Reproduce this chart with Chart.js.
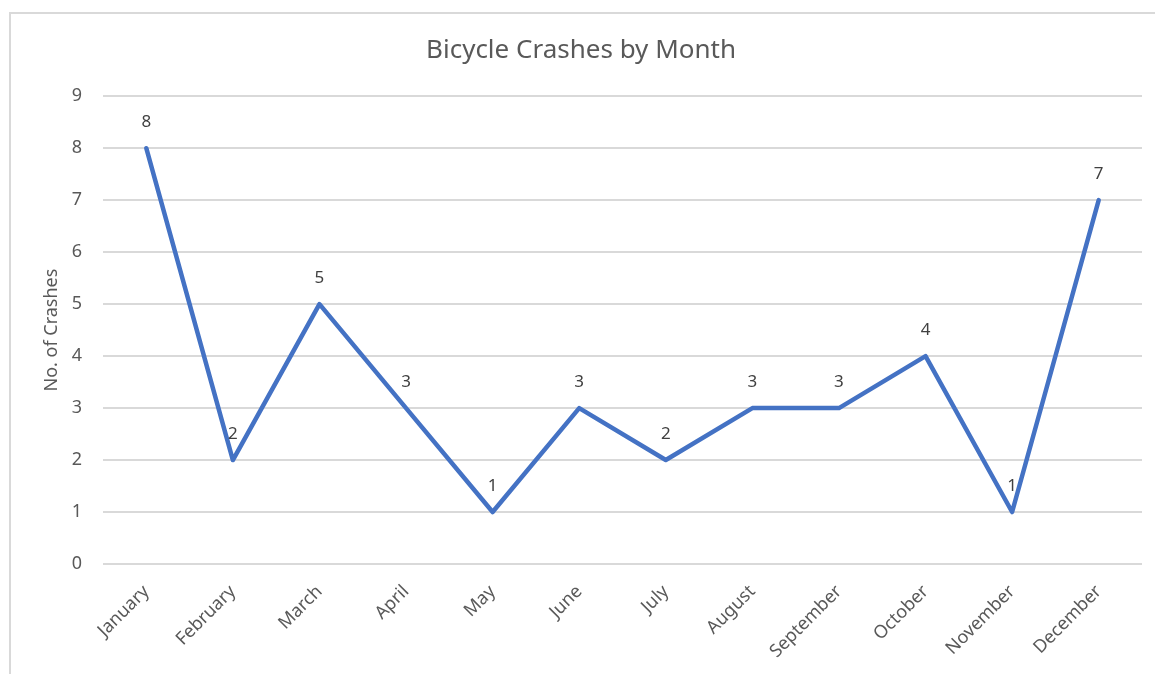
<!DOCTYPE html>
<html>
<head>
<meta charset="utf-8">
<script src="https://cdn.jsdelivr.net/npm/chart.js@4"></script>
<style>
  html, body { margin: 0; padding: 0; background: #fff; }
  #wrap { width: 1155px; height: 674px; position: relative; }
</style>
</head>
<body>
<div id="wrap"><canvas id="crashChart" width="1155" height="674"></canvas></div>
<script>
// chart data
const months = ['January', 'February', 'March', 'April', 'May', 'June',
                'July', 'August', 'September', 'October', 'November', 'December'];
const crashes = [8, 2, 5, 3, 1, 3, 2, 3, 3, 4, 1, 7];
const yTicks = [0, 1, 2, 3, 4, 5, 6, 7, 8, 9];

const FONT = "'Noto Sans', 'Open Sans', sans-serif";
const GREY = '#595959';

// light border round the chart, like the Excel frame
const frame = {
    id: 'frame',
    beforeDraw(chart) {
        const ctx = chart.ctx;
        ctx.save();
        ctx.strokeStyle = '#d9d9d9';
        ctx.lineWidth = 2;
        ctx.strokeRect(10, 13, chart.width + 20, chart.height + 20);
        ctx.restore();
    }
};

// value labels above each point
const valueLabels = {
    id: 'valueLabels',
    afterDatasetsDraw(chart) {
        const ctx = chart.ctx;
        const meta = chart.getDatasetMeta(0);
        ctx.save();
        ctx.font = '17px ' + FONT;
        ctx.fillStyle = '#404040';
        ctx.textAlign = 'center';
        ctx.textBaseline = 'middle';
        meta.data.forEach((pt, i) => {
            ctx.fillText(String(crashes[i]), pt.x, pt.y - 26);
        });
        ctx.restore();
    }
};

const ctx = document.getElementById('crashChart').getContext('2d');
new Chart(ctx, {
    type: 'line',
    data: {
        labels: months,
        datasets: [{
            label: 'No. of Crashes',
            data: crashes,
            borderColor: '#4472C4',
            borderWidth: 4.5,
            borderJoinStyle: 'round',
            borderCapStyle: 'round',
            pointRadius: 0,
            tension: 0,
            fill: false
        }]
    },
    options: {
        responsive: false,
        animation: false,
        layout: { padding: { left: 20, right: 13, top: 0, bottom: 0 } },
        plugins: {
            legend: { display: false },
            tooltip: { enabled: false },
            title: {
                display: true,
                text: 'Bicycle Crashes by Month',
                color: GREY,
                font: { family: FONT, size: 26, weight: 'normal' },
                padding: { top: 35, bottom: 30 }
            }
        },
        scales: {
            x: {
                offset: true,
                grid: { display: false, drawTicks: false },
                border: { display: false },
                ticks: {
                    color: GREY,
                    font: { family: FONT, size: 18 },
                    minRotation: 45,
                    maxRotation: 45,
                    padding: 17
                },
                afterFit(scale) { scale.height = 110; }
            },
            y: {
                min: 0,
                max: 9,
                afterBuildTicks(scale) { scale.ticks = yTicks.map(v => ({ value: v })); },
                grid: { color: '#d9d9d9', lineWidth: 2, drawTicks: false },
                border: { display: false },
                ticks: {
                    color: GREY,
                    font: { family: FONT, size: 18 },
                    padding: 21
                },
                title: {
                    display: true,
                    text: 'No. of Crashes',
                    color: GREY,
                    font: { family: FONT, size: 18 },
                    padding: { top: 21, bottom: 0 }
                },
                afterFit(scale) { scale.width = 83; }
            }
        }
    },
    plugins: [frame, valueLabels]
});
</script>
</body>
</html>
